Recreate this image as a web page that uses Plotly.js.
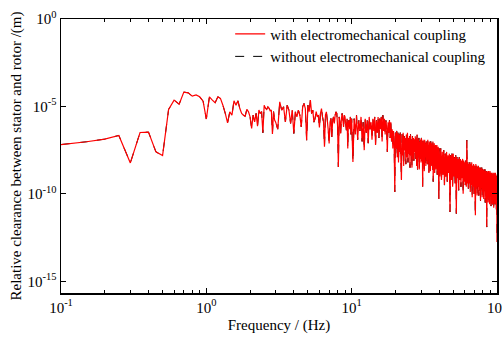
<!DOCTYPE html>
<html><head><meta charset="utf-8">
<script src="https://cdn.plot.ly/plotly-3.0.1.min.js"></script>
<style>html,body{margin:0;padding:0;background:#fff}#chart{width:502px;height:337px}</style>
</head><body><div id="chart"></div>
<script>
// Frequencies (Hz) and log10 of relative clearance (m)
const freqA = [0.1,0.15,0.2,0.25,0.3,0.35,0.4,0.45,0.5,0.55,0.6,0.65,0.7,0.75,0.8,0.85,0.9,0.95,1.0];
const logA  = [-7.18,-7.02,-6.87,-6.66,-8.23,-6.49,-6.47,-7.6,-7.81,-5.17,-4.64,-4.87,-4.18,-4.22,-4.41,-4.34,-4.45,-4.70,-5.72];

const freqB = [1.05,1.1,1.15,1.2,1.25,1.3,1.35,1.4,1.45,1.5,1.55,1.6,1.65,1.7,1.75,1.8,1.85,1.9,1.95,2.0,
               2.05,2.1,2.15,2.2,2.25,2.3,2.35,2.4,2.45,2.5,2.55,2.6,2.65,2.7,2.75,2.8,2.85,2.9,2.95,3.0];
const logB  = [-4.45,-4.64,-4.79,-4.45,-4.54,-4.93,-5.4,-5.94,-5.31,-5.5,-4.68,-4.93,-4.68,-5.12,-5.4,-5.5,-5.56,-5.17,-5.31,-5.6,
               -6.26,-5.5,-5.88,-5.4,-6.13,-5.21,-5.4,-5.3,-6.51,-4.93,-5.1,-5.17,-5.02,-5.1,-5.25,-5.2,-6.57,-5.3,-5.78,-5.9];

const freqC = [3.1,3.2,3.3,3.4,3.5,3.6,3.7,3.8,3.9,4.0,4.1,4.2,4.3,4.4,4.5,4.6,4.7,4.8,4.9,5.0,
               5.1,5.2,5.3,5.4,5.5,5.6,5.7,5.8,5.9,6.0,6.1,6.2,6.3,6.4,6.5,6.6,6.7,6.8,6.9,7.0,
               7.1,7.2,7.3,7.4,7.5,7.6,7.7,7.8,7.9,8.0,8.1,8.2,8.3,8.4,8.5,8.6,8.7,8.8,8.9,9.0,
               9.1,9.2,9.3,9.4,9.5,9.6,9.7,9.8,9.9,10.0];
const logC  = [-6.3,-4.74,-5.21,-5.02,-5.88,-4.93,-5.21,-5.97,-5.21,-6.55,-5.31,-5.6,-5.21,-5.5,-6.17,-5.02,-4.83,-5.12,-6.93,-4.93,
               -5.3,-4.64,-5.4,-5.21,-5.9,-5.69,-5.3,-5.6,-5.5,-6.2,-5.4,-5.12,-5.6,-5.88,-7.31,-5.5,-5.31,-5.8,-6.36,-7.12,
               -5.9,-5.69,-6.74,-5.8,-5.6,-5.97,-5.5,-5.31,-5.4,-6.1,-8.46,-5.6,-5.9,-6.55,-5.7,-5.4,-5.8,-6.17,-5.5,-5.6,
               -6.0,-6.36,-5.7,-7.41,-5.9,-5.78,-6.3,-5.6,-6.6,-5.7];

const freqD = [10.2,10.4,10.6,10.8,11.0,11.2,11.4,11.6,11.8,12.0,12.2,12.4,12.6,12.8,13.0,13.2,13.4,13.6,13.8,14.0,
               14.2,14.4,14.6,14.8,15.0,15.2,15.4,15.6,15.8,16.0,16.2,16.4,16.6,16.8,17.0,17.2,17.4,17.6,17.8,18.0,
               18.2,18.4,18.6,18.8,19.0,19.2,19.4,19.6,19.8,20.0];
const logD  = [-8.17,-5.7,-6.6,-5.5,-6.9,-5.8,-6.4,-5.6,-7.0,-5.9,-7.5,-5.7,-6.5,-5.8,-7.1,-5.6,-6.3,-5.9,-6.9,-5.7,
               -6.4,-5.6,-7.2,-5.8,-6.5,-5.6,-6.8,-5.7,-6.3,-5.6,-7.0,-5.5,-6.4,-5.7,-6.6,-5.8,-6.2,-7.6,-5.9,-6.5,
               -5.8,-6.8,-5.9,-7.0,-6.3,-7.4,-6.4,-7.1,-9.89,-6.5];

const freqE = [20.2,20.4,20.6,20.8,21.0,21.2,21.4,21.6,21.8,22.0,22.2,22.4,22.6,22.8,23.0,23.2,23.4,23.6,23.8,24.0,
               24.2,24.4,24.6,24.8,25.0,25.2,25.4,25.6,25.8,26.0,26.2,26.4,26.6,26.8,27.0,27.2,27.4,27.6,27.8,28.0,
               28.2,28.4,28.6,28.8,29.0,29.2,29.4,29.6,29.8,30.0,30.2,30.4,30.6,30.8,31.0,31.2,31.4,31.6,31.8,32.0,
               32.2,32.4,32.6,32.8,33.0,33.2,33.4,33.6,33.8,34.0,34.2,34.4,34.6,34.8,35.0,35.2,35.4,35.6,35.8,36.0,
               36.2,36.4,36.6,36.8,37.0,37.2,37.4,37.6,37.8,38.0,38.2,38.4,38.6,38.8,39.0,39.2,39.4,39.6,39.8,40.0];
const logE  = [-7.4,-6.4,-7.9,-6.5,-8.2,-6.6,-7.6,-6.5,-8.0,-9.2,
               -6.6,-7.8,-6.5,-8.4,-6.7,-7.5,-6.8,-8.3,-6.6,-7.9,
               -6.5,-8.2,-6.8,-7.7,-6.7,-8.5,-6.6,-7.8,-6.9,-8.5,
               -6.7,-8.0,-6.8,-8.1,-6.9,-7.6,-6.7,-8.0,-6.8,-8.4,
               -6.6,-8.6,-6.9,-7.9,-6.8,-8.6,-7.0,-8.0,-6.9,-8.2,
               -6.8,-8.1,-7.0,-9.6,-6.9,-8.3,-7.0,-8.7,-6.9,-7.9,
               -7.1,-8.4,-7.0,-8.1,-7.1,-8.3,-6.9,-8.0,-7.2,-8.8,
               -7.0,-8.2,-7.1,-8.7,-7.0,-8.4,-7.1,-8.3,-7.2,-8.6,
               -7.0,-9.3,-7.2,-8.4,-7.1,-8.8,-7.3,-8.2,-7.2,-8.6,
               -7.3,-8.5,-7.2,-8.9,-7.4,-8.3,-7.3,-8.7,-10.3,-7.4];

const freqF = [40.5,41,41.5,42,42.5,43,43.5,44,44.5,45,45.5,46,46.5,47,47.5,48,48.5,49,49.5,50,
               50.5,51,51.5,52,52.5,53,53.5,54,54.5,55,55.5,56,56.5,57,57.5,58,58.5,59,59.5,60,
               60.5,61,61.5,62,62.5,63,63.5,64,64.5,65,65.5,66,66.5,67,67.5,68,68.5,69,69.5,70,
               70.5,71,71.5,72,72.5,73,73.5,74,74.5,75,75.5,76,76.5,77,77.5,78,78.5,79,79.5,80,
               80.5,81,81.5,82,82.5,83,83.5,84,84.5,85,85.5,86,86.5,87,87.5,88,88.5,89,89.5,90,
               90.5,91,91.5,92,92.5,93,93.5,94,94.5,95,95.5,96,96.5,97,97.5,98,98.5,99,99.5,100];
const logF  = [-9.0,-7.4,-9.2,-7.6,-8.9,-7.5,-9.5,-7.7,-9.0,-7.6,
               -9.3,-7.8,-8.8,-7.7,-11.03,-7.8,-9.2,-7.7,-9.6,-7.7,
               -9.0,-7.9,-9.4,-7.8,-11.13,-7.9,-9.1,-8.0,-9.8,-7.9,
               -9.2,-8.0,-9.6,-8.1,-9.1,-8.0,-10.0,-8.1,-9.3,-8.2,
               -9.5,-8.1,-9.6,-6.93,-9.4,-8.2,-9.7,-8.3,-9.4,-8.2,
               -9.9,-8.3,-9.5,-8.2,-10.2,-8.4,-9.6,-8.3,-10.0,-8.4,
               -9.8,-11.22,-8.3,-9.7,-8.4,-10.1,-8.5,-9.6,-8.4,-10.1,
               -8.5,-9.8,-8.5,-10.4,-8.6,-9.7,-8.5,-10.2,-8.6,-9.9,
               -8.6,-10.3,-8.7,-9.8,-8.6,-10.5,-8.7,-9.9,-8.7,-11.9,
               -8.7,-10.0,-8.8,-10.5,-8.7,-10.2,-8.8,-10.6,-8.7,-10.0,
               -8.8,-10.7,-8.8,-10.2,-8.9,-10.6,-8.8,-10.3,-8.9,-10.8,
               -8.8,-10.4,-8.9,-10.6,-8.8,-10.2,-8.9,-10.9,-9.0,-12.75];

const xTickVals = [0.1, 1, 10, 100];
const xTickText = ['10<sup>-1</sup>','10<sup>0</sup>','10<sup>1</sup>','10<sup>2</sup>'];
const xMinorVals = [0.2,0.3,0.4,0.5,0.6,0.7,0.8,0.9,2,3,4,5,6,7,8,9,20,30,40,50,60,70,80,90];
const yTickVals = [1, 1e-5, 1e-10, 1e-15];
const yTickText = ['10<sup>0</sup>','10<sup>-5</sup>','10<sup>-10</sup>','10<sup>-15</sup>'];
const seriesNames = ['with electromechanical coupling', 'without electromechanical coupling'];

const freq = [].concat(freqA, freqB, freqC, freqD, freqE, freqF);
const clearance = [].concat(logA, logB, logC, logD, logE, logF).map(v => Math.pow(10, v));

const serif = 'Liberation Serif';

const traces = [
  {x: freq, y: clearance, type: 'scatter', mode: 'lines', name: seriesNames[1], legendrank: 2,
   line: {color: '#000000', width: 1, dash: 'dash', simplify: false}},
  {x: freq, y: clearance, type: 'scatter', mode: 'lines', name: seriesNames[0], legendrank: 1,
   line: {color: '#ff0000', width: 1.2, simplify: false}}
];

const layout = {
  width: 502, height: 337,
  margin: {l: 61, r: 5, t: 19, b: 44},
  paper_bgcolor: '#ffffff', plot_bgcolor: '#ffffff',
  font: {family: serif, size: 15, color: '#000000'},
  showlegend: true,
  legend: {x: 0.388, y: 1.005, xanchor: 'left', yanchor: 'top', bgcolor: 'rgba(0,0,0,0)',
           font: {family: serif, size: 15, color: '#000'}, tracegroupgap: 0, itemwidth: 30},
  xaxis: {type: 'log', range: [-1, 2], showgrid: false, zeroline: false,
          showline: true, linecolor: '#000', linewidth: 1.5, mirror: 'ticks',
          ticks: 'inside', ticklen: 5, tickwidth: 1, tickcolor: '#000',
          tickvals: xTickVals, ticktext: xTickText, tickfont: {family: serif, size: 15},
          ticklabeloverflow: 'allow',
          minor: {tickvals: xMinorVals, ticks: 'inside', ticklen: 3, tickcolor: '#000', tickwidth: 1, showgrid: false},
          title: {text: 'Frequency / (Hz)', font: {family: serif, size: 15}, standoff: 5}},
  yaxis: {type: 'log', range: [-15.67, 0], showgrid: false, zeroline: false,
          showline: true, linecolor: '#000', linewidth: 1.5, mirror: 'ticks',
          ticks: 'inside', ticklen: 5, tickwidth: 1, tickcolor: '#000',
          tickvals: yTickVals, ticktext: yTickText, tickfont: {family: serif, size: 15},
          ticklabeloverflow: 'allow',
          title: {text: 'Relative clearance between stator and rotor /(m)', font: {family: serif, size: 15}}}
};

Plotly.newPlot('chart', traces, layout, {displayModeBar: false, staticPlot: true});
</script>
</body></html>
